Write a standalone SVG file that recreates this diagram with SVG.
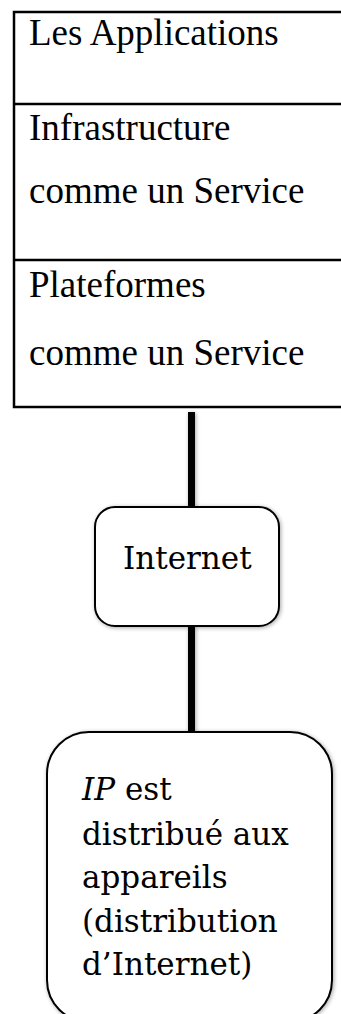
<svg xmlns="http://www.w3.org/2000/svg" width="341" height="1014" viewBox="0 0 341 1014">
<defs>
<style>
.t{font-family:"Liberation Serif","Times New Roman",serif;font-size:37px;fill:#000}
.c{font-family:"DejaVu Serif",serif;font-size:31px;fill:#000}
.box{fill:none;stroke:#000;stroke-width:2.5}
.rbox{fill:#fff;stroke:#000;stroke-width:2}
.conn{fill:#000}
</style>
<filter id="sh" filterUnits="userSpaceOnUse" x="0" y="0" width="341" height="1014">
<feGaussianBlur in="SourceAlpha" stdDeviation="2"/>
<feOffset dx="1" dy="1" result="b"/>
<feComponentTransfer><feFuncA type="linear" slope="0.35"/></feComponentTransfer>
<feMerge><feMergeNode/><feMergeNode in="SourceGraphic"/></feMerge>
</filter>
</defs>
<rect width="341" height="1014" fill="#fff"/>
<g id="connectors" filter="url(#sh)">
<rect class="conn" x="188" y="412" width="7" height="96"/>
<rect class="conn" x="188" y="626" width="7" height="107"/>
</g>
<g id="stack">
<rect class="box" x="14" y="12" width="340" height="395"/>
<line class="box" x1="14" y1="104" x2="341" y2="104"/>
<line class="box" x1="14" y1="260" x2="341" y2="260"/>
</g>
<g id="applications">
<text class="t" x="29" y="45">Les Applications</text>
</g>
<g id="iaas">
<text class="t" x="29" y="140">Infrastructure</text>
<text class="t" x="29" y="203">comme un Service</text>
</g>
<g id="paas">
<text class="t" x="29" y="297">Plateformes</text>
<text class="t" x="29" y="365">comme un Service</text>
</g>
<g id="internet">
<rect class="rbox" x="95" y="507" width="184" height="119" rx="20" ry="20" filter="url(#sh)"/>
<text class="c" x="123" y="569">Internet</text>
</g>
<g id="ip">
<rect class="rbox" x="47" y="732" width="285" height="290" rx="42" ry="42" filter="url(#sh)"/>
<text class="c" x="82" y="800"><tspan font-style="italic">IP</tspan> est</text>
<text class="c" x="82" y="845">distribué aux</text>
<text class="c" x="82" y="888">appareils</text>
<text class="c" x="82" y="932">(distribution</text>
<text class="c" x="82" y="975">d’Internet)</text>
</g>
</svg>
